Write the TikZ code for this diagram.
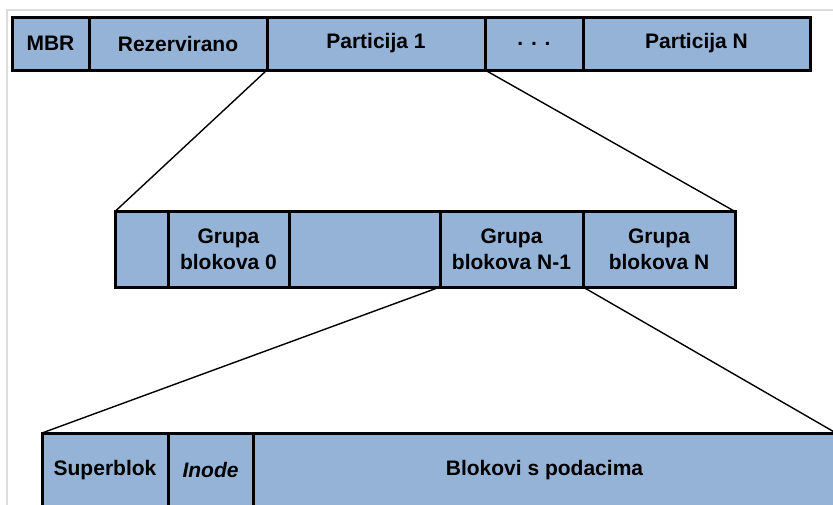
\documentclass[tikz,border=0pt]{standalone}
\usepackage{fontspec}
\setmainfont{Liberation Sans}
\definecolor{cellblue}{HTML}{95B3D7}
\definecolor{framegray}{HTML}{DCDCDC}
\begin{document}
\begin{tikzpicture}[x=1pt,y=-1pt,
  cell/.style={draw=black, fill=cellblue, line width=3pt, inner sep=0pt, outer sep=0pt,
    anchor=north west, align=center, font=\fontsize{21}{26}\selectfont\bfseries},
  link/.style={draw=black, line width=1.4pt}]
\useasboundingbox (0,0) rectangle (833,504);
\fill[white] (0,0) rectangle (833,504);
\begin{scope}
\clip (0,0) rectangle (833,504);
\draw[framegray, line width=2pt] (7,520) -- (7,10) -- (850,10);
% top row
\node[cell, minimum width=77, minimum height=53] (mbr) at (12,17) {MBR};
\node[cell, minimum width=178, minimum height=53] (rez) at (89,17) {Rezervirano};
\node[cell, minimum width=218, minimum height=53] (p1) at (267,17) {Particija 1};
\node[cell, minimum width=98, minimum height=53] (dots) at (485,17) {. . .};
\node[cell, minimum width=227, minimum height=53] (pN) at (583,17) {Particija N};
% middle row
\node[cell, minimum width=53, minimum height=75.5] (m0) at (115,211.5) {};
\node[cell, minimum width=121, minimum height=75.5] (g0) at (168,211.5) {Grupa\\blokova 0};
\node[cell, minimum width=151, minimum height=75.5] (m2) at (289,211.5) {};
\node[cell, minimum width=143, minimum height=75.5] (gN1) at (440,211.5) {Grupa\\blokova N-1};
\node[cell, minimum width=152, minimum height=75.5] (gN) at (583,211.5) {Grupa\\blokova N};
% bottom row
\node[cell, minimum width=126, minimum height=74] (sb) at (42,433) {Superblok};
\node[cell, minimum width=85, minimum height=74] (ino) at (168,433) {\itshape Inode};
\node[cell, minimum width=583, minimum height=74] (data) at (253,433) {Blokovi s podacima};
% connectors
\draw[link] (p1.south west) -- (m0.north west);
\draw[link] (dots.south west) -- (gN.north east);
\draw[link] (gN1.south west) -- (sb.north west);
\draw[link] (gN1.south east) -- (data.north east);
\end{scope}
\end{tikzpicture}
\end{document}
